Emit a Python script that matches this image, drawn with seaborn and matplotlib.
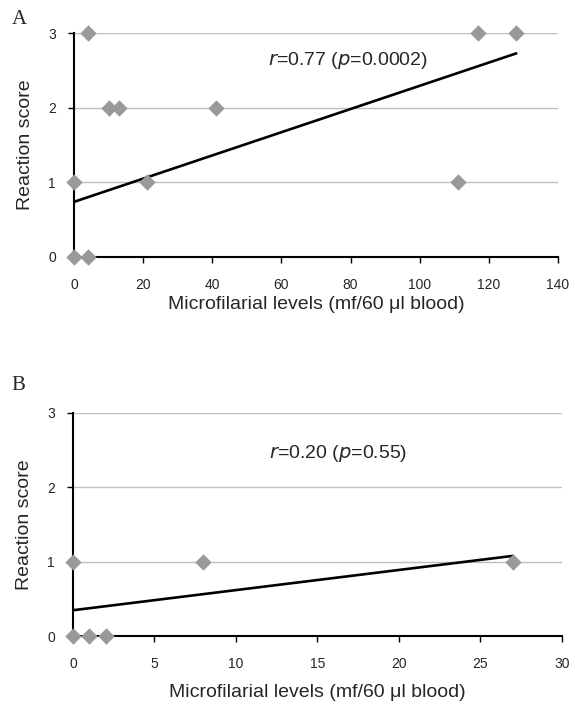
import matplotlib
matplotlib.use("Agg")
import matplotlib.pyplot as plt
import seaborn as sns
import pandas as pd

# Panel A data (microfilarial level vs reaction score)
a_mf = [0, 4, 0, 4, 10, 13, 41, 21, 111, 117, 128]
a_score = [0, 0, 1, 3, 2, 2, 2, 1, 1, 3, 3]
a_trend_x = [0, 128]
a_trend_y = [0.74, 2.73]

# Panel B data
b_mf = [0, 1, 2, 0, 8, 27]
b_score = [0, 0, 0, 1, 1, 1]
b_trend_x = [0, 27]
b_trend_y = [0.35, 1.08]

a_xticks = [0, 20, 40, 60, 80, 100, 120, 140]
b_xticks = [0, 5, 10, 15, 20, 25, 30]
y_ticks = [0, 1, 2, 3]

sns.set_style("white")
plt.rcParams["font.family"] = ["Liberation Sans", "DejaVu Sans"]

fig = plt.figure(figsize=(5.75, 7.07), dpi=100)
ax_a = fig.add_axes([0.129, 0.6365, 0.841, 0.3165])
ax_b = fig.add_axes([0.127, 0.100, 0.850, 0.316])


def draw_panel(ax, mf, score, tx, ty, xticks, stat, stat_y, xmax, xpad):
    for yv in [1, 2, 3]:
        ax.axhline(yv, color="#bfbfbf", lw=1.0, zorder=0)
    sns.lineplot(x=tx, y=ty, ax=ax, color="black", lw=1.9, zorder=2)
    df = pd.DataFrame({"mf": mf, "score": score})
    sns.scatterplot(data=df, x="mf", y="score", ax=ax, marker="D", s=70,
                    color="#999999", edgecolor="#999999", linewidth=0,
                    zorder=3, clip_on=False)
    ax.set_xlim(0, xmax)
    ax.set_ylim(0, 3)
    ax.set_xticks(xticks)
    ax.set_yticks(y_ticks)
    ax.tick_params(axis="both", direction="out", length=4, width=1,
                   labelsize=10, color="black", bottom=True, left=True)
    ax.tick_params(axis="x", pad=11)
    ax.tick_params(axis="y", pad=9)
    for side in ["top", "right"]:
        ax.spines[side].set_visible(False)
    for side in ["left", "bottom"]:
        ax.spines[side].set_color("black")
        ax.spines[side].set_linewidth(1.5)
    ax.set_xlabel("Microfilarial levels (mf/60 \u03bcl blood)", fontsize=14, labelpad=xpad)
    ax.set_ylabel("Reaction score", fontsize=14, labelpad=10)
    ax.text(0.40, stat_y, stat, transform=ax.transAxes, fontsize=14,
            ha="left", va="center")


draw_panel(ax_a, a_mf, a_score, a_trend_x, a_trend_y, a_xticks,
           "$\\mathit{r}$=0.77 ($\\mathit{p}$=0.0002)", 0.879, 140, 3)
draw_panel(ax_b, b_mf, b_score, b_trend_x, b_trend_y, b_xticks,
           "$\\mathit{r}$=0.20 ($\\mathit{p}$=0.55)", 0.82, 30, 9)

fig.text(0.02, 0.972, "A", fontsize=15, family="Liberation Serif", va="center")
fig.text(0.02, 0.455, "B", fontsize=15, family="Liberation Serif", va="center")

fig.savefig("out.png", dpi=100)
